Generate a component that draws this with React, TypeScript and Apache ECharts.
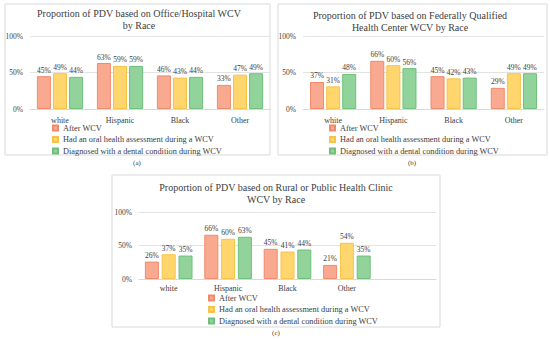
import React, { useEffect, useRef } from "react";
import * as echarts from "echarts";

const categories = ["white", "Hispanic", "Black", "Other"];
const seriesNames = [
  "After WCV",
  "Had an oral health assessment during a WCV",
  "Diagnosed with a dental condition during WCV",
];
const yTicks = [0, 50, 100];

// Panel (a): Office/Hospital WCV
const officeAfter = [45, 63, 46, 33];
const officeOral = [49, 59, 43, 47];
const officeDental = [44, 59, 44, 49];

// Panel (b): Federally Qualified Health Center WCV
const fqhcAfter = [37, 66, 45, 29];
const fqhcOral = [31, 60, 42, 49];
const fqhcDental = [48, 56, 43, 49];

// Panel (c): Rural or Public Health Clinic WCV
const ruralAfter = [26, 66, 45, 21];
const ruralOral = [37, 60, 41, 54];
const ruralDental = [35, 63, 44, 35];

const titles = [
  "Proportion of PDV based on Office/Hospital WCV\nby Race",
  "Proportion of PDV based on Federally Qualified\nHealth Center WCV by Race",
  "Proportion of PDV based on Rural or Public Health Clinic\nWCV by Race",
];
const panelTags = ["(a)", "(b)", "(c)"];

const FONT = "'Liberation Serif', 'DejaVu Serif', serif";
const fills = ["#F8A98F", "#FFD56E", "#91D39A"];
const borders = ["#F08A6C", "#F6C347", "#6EC07A"];

export default function App() {
  const ref = useRef<HTMLDivElement>(null);

  useEffect(() => {
    if (!ref.current) return;
    const chart = echarts.init(ref.current, undefined, { renderer: "svg" });

    const panelData = [
      [officeAfter, officeOral, officeDental],
      [fqhcAfter, fqhcOral, fqhcDental],
      [ruralAfter, ruralOral, ruralDental],
    ];
    const grids = [
      { left: 30, top: 36, width: 240, height: 73 },
      { left: 303, top: 36, width: 241, height: 73 },
      { left: 139, top: 212, width: 297, height: 67 },
    ];
    const xCats = [categories, categories, [...categories, ""]];

    const series: any[] = [];
    panelData.forEach((sets, p) => {
      sets.forEach((vals, s) => {
        series.push({
          type: "bar",
          name: seriesNames[s],
          xAxisIndex: p,
          yAxisIndex: p,
          data: vals,
          barWidth: 14,
          barGap: p === 2 ? "20%" : "15%",
          itemStyle: { color: fills[s], borderColor: borders[s], borderWidth: 1 },
          label: {
            show: true,
            position: "top",
            distance: 2,
            formatter: "{c}%",
            fontFamily: FONT,
            fontSize: 7.5,
            color: "#404040",
          },
        });
      });
    });

    const option: any = {
      animation: false,
      backgroundColor: "#ffffff",
      title: [
        { text: titles[0], left: 139, top: 8 },
        { text: titles[1], left: 410, top: 10 },
        { text: titles[2], left: 276, top: 182 },
      ].map((t) => ({
        ...t,
        textAlign: "center",
        padding: 0,
        textStyle: {
          fontFamily: FONT,
          fontSize: 10,
          fontWeight: "normal",
          color: "#404040",
          lineHeight: 11.5,
        },
      })),
      legend: [
        { left: 52, top: 123 },
        { left: 329, top: 123 },
        { left: 208, top: 293 },
      ].map((l) => ({
        ...l,
        orient: "vertical",
        padding: 0,
        itemWidth: 5,
        itemHeight: 5,
        itemGap: 1.5,
        icon: "rect",
        data: seriesNames,
        textStyle: { fontFamily: FONT, fontSize: 8.3, color: "#404040", lineHeight: 10 },
      })),
      grid: grids,
      xAxis: xCats.map((cats, i) => ({
        type: "category",
        gridIndex: i,
        data: cats,
        axisTick: { show: false },
        axisLine: { lineStyle: { color: "#D9D9D9" } },
        axisLabel: { fontFamily: FONT, fontSize: 8, color: "#404040", margin: i === 2 ? 5 : 7 },
      })),
      yAxis: grids.map((_, i) => ({
        type: "value",
        gridIndex: i,
        min: yTicks[0],
        max: yTicks[yTicks.length - 1],
        interval: 50,
        axisLine: { show: false },
        axisTick: { show: false },
        splitLine: { lineStyle: { color: "#E3E3E3" } },
        axisLabel: {
          formatter: "{value}%",
          fontFamily: FONT,
          fontSize: 7.5,
          color: "#404040",
          margin: 7,
        },
      })),
      graphic: [
        { type: "rect", shape: { x: 5, y: 4, width: 265, height: 151 }, style: { fill: "none", stroke: "#D9D9D9", lineWidth: 1 }, silent: true },
        { type: "rect", shape: { x: 278, y: 4, width: 269, height: 151 }, style: { fill: "none", stroke: "#D9D9D9", lineWidth: 1 }, silent: true },
        { type: "rect", shape: { x: 112, y: 175, width: 328, height: 152 }, style: { fill: "none", stroke: "#D9D9D9", lineWidth: 1 }, silent: true },
        ...[
          [137, 163],
          [412, 163],
          [276, 333],
        ].map(([x, y], i) => ({
          type: "text",
          x,
          y,
          silent: true,
          style: {
            text: panelTags[i],
            fontFamily: FONT,
            fontSize: 7,
            fill: "#404040",
            textAlign: "center",
            textVerticalAlign: "middle",
          },
        })),
      ],
      series,
    };

    chart.setOption(option);
    return () => chart.dispose();
  }, []);

  return (
    <div
      ref={ref}
      style={{ position: "fixed", left: 0, top: 0, width: 550, height: 339 }}
    />
  );
}
